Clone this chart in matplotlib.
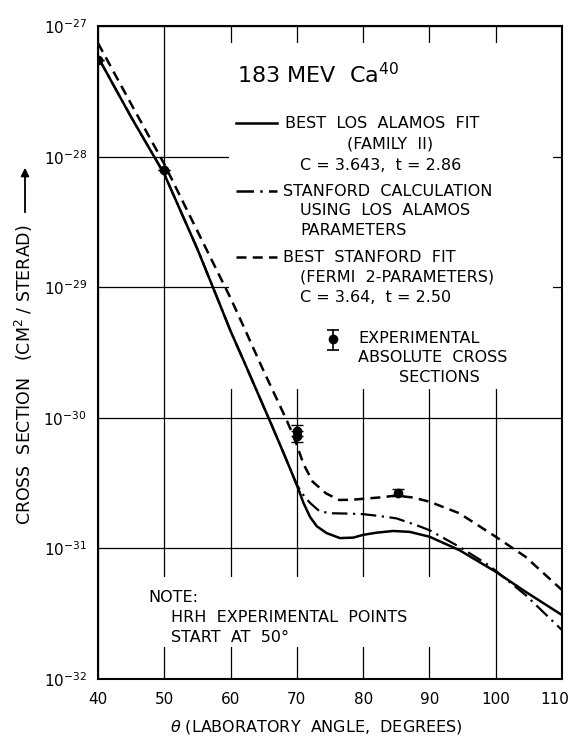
import matplotlib
matplotlib.use('Agg')
import matplotlib.pyplot as plt
import matplotlib.transforms as mtransforms
from matplotlib.patches import Rectangle
from matplotlib.ticker import NullLocator

plt.rcParams['mathtext.default'] = 'regular'
plt.rcParams['font.family'] = ['DejaVu Sans']

# Best Los Alamos fit (solid)
la_angle = [40, 45, 50, 55, 58, 60, 62, 64, 66, 68, 70, 71, 72, 73, 74.5,
            76.5, 78.5, 80, 82, 84.5, 87, 90, 94.5, 100, 104.5, 110]
la_sigma = [5.79e-28, 2.01e-28, 7.36e-29, 1.96e-29, 8.26e-30, 4.62e-30,
            2.72e-30, 1.59e-30, 9.29e-31, 5.37e-31, 3.06e-31, 2.23e-31,
            1.74e-31, 1.48e-31, 1.31e-31, 1.20e-31, 1.21e-31, 1.27e-31,
            1.32e-31, 1.36e-31, 1.34e-31, 1.23e-31, 9.72e-32, 6.63e-32,
            4.66e-32, 3.09e-32]

# Stanford calculation using Los Alamos parameters (dash-dot)
sc_angle = [40, 45, 50, 55, 58, 60, 62, 64, 66, 68, 70, 71, 72, 73.4, 75,
            77.5, 80, 82.5, 85, 88, 90, 94.5, 98.5, 100, 104.5, 110]
sc_sigma = [5.79e-28, 2.01e-28, 7.36e-29, 1.96e-29, 8.26e-30, 4.62e-30,
            2.72e-30, 1.59e-30, 9.29e-31, 5.37e-31, 3.06e-31, 2.56e-31,
            2.23e-31, 1.93e-31, 1.86e-31, 1.85e-31, 1.83e-31, 1.77e-31,
            1.70e-31, 1.51e-31, 1.38e-31, 1.03e-31, 7.69e-32, 6.75e-32,
            4.40e-32, 2.37e-32]

# Best Stanford fit, Fermi 2-parameters (dashed)
sf_angle = [40, 45, 50, 55, 60, 62, 65, 68.3, 69.2, 70, 71, 72.4, 74.4,
            76.4, 78.4, 80, 82.6, 85, 87.6, 90, 94.5, 100, 104.5, 110]
sf_sigma = [7.41e-28, 2.53e-28, 8.78e-29, 2.69e-29, 8.26e-30, 4.96e-30,
            2.28e-30, 1.00e-30, 7.87e-31, 6.19e-31, 4.43e-31, 3.24e-31,
            2.64e-31, 2.35e-31, 2.36e-31, 2.40e-31, 2.46e-31, 2.54e-31,
            2.45e-31, 2.28e-31, 1.86e-31, 1.23e-31, 8.63e-32, 4.80e-32]

# Experimental absolute cross sections
exp_angle = [40, 50, 70, 70, 85.2]
exp_sigma = [5.5e-28, 7.9e-29, 7.9e-31, 7.2e-31, 2.65e-31]
exp_err_lo = [0, 0, 0, 0.7e-31, 0.15e-31]
exp_err_hi = [0, 0, 0.9e-31, 0, 0.2e-31]

x_ticks = [40, 50, 60, 70, 80, 90, 100, 110]
y_ticks = [1e-32, 1e-31, 1e-30, 1e-29, 1e-28, 1e-27]

fig = plt.figure(figsize=(5.73, 7.36), dpi=100)
ax = fig.add_axes([0.1710, 0.0774, 0.8098, 0.8872])

ax.set_yscale('log')
ax.set_xlim(40, 110)
ax.set_ylim(1e-32, 1e-27)
ax.set_xticks(x_ticks)
ax.set_xticklabels([str(t) for t in x_ticks])
ax.set_yticks(y_ticks)
ax.yaxis.set_minor_locator(NullLocator())
ax.tick_params(length=0, labelsize=11)
ax.tick_params(axis='x', pad=9)
ax.tick_params(axis='y', pad=8)
ax.set_axisbelow(True)
ax.grid(True, color='black', lw=0.9)
for s in ax.spines.values():
    s.set_linewidth(1.5)

# keep "110" inside the picture
last = ax.get_xticklabels()[-1]
last.set_transform(last.get_transform() +
                   mtransforms.ScaledTranslation(-7 / 100, 0, fig.dpi_scale_trans))


def pos(px, py):
    # pixel position in the picture -> axes fraction
    return (px - 98) / 464, (679 - py) / 653


# white areas where the grid is cut by the text
for (x0, y0, x1, y1) in [(229, 43, 553, 389), (130, 577, 470, 647)]:
    a0, b1 = pos(x0, y1)
    a1, b0 = pos(x1, y0)
    ax.add_patch(Rectangle((a0, b1), a1 - a0, b0 - b1, transform=ax.transAxes,
                           facecolor='white', edgecolor='none', zorder=1))

ax.plot(la_angle, la_sigma, color='black', lw=1.8, zorder=3)
ax.plot(sc_angle, sc_sigma, color='black', lw=1.6,
        linestyle=(0, (7, 2.5, 1, 2.5)), zorder=3)
ax.plot(sf_angle, sf_sigma, color='black', lw=1.8,
        linestyle=(0, (4, 2.5)), zorder=3)
ax.errorbar(exp_angle, exp_sigma, yerr=[exp_err_lo, exp_err_hi], fmt='o',
            color='black', ms=6, capsize=4, elinewidth=1.2, zorder=4)

# legend block
txt = dict(transform=ax.transAxes, fontsize=11.5, va='center', zorder=5)
ax.text(*pos(237, 75), '183 MEV  Ca$^{40}$', transform=ax.transAxes,
        fontsize=16, va='center', zorder=5)

for ypx, ls in [(123, '-'), (191, (0, (7, 2.5, 1, 2.5))), (257, (0, (4, 2.5)))]:
    x0, y = pos(236, ypx)
    x1, _ = pos(277, ypx)
    ax.plot([x0, x1], [y, y], transform=ax.transAxes, color='black',
            lw=1.8, linestyle=ls, zorder=5)

ax.text(*pos(285, 123), 'BEST  LOS  ALAMOS  FIT', **txt)
ax.text(*pos(390, 144), '(FAMILY  II)', ha='center', **txt)
ax.text(*pos(300, 165), 'C = 3.643,  t = 2.86', **txt)
ax.text(*pos(283, 191), 'STANFORD  CALCULATION', **txt)
ax.text(*pos(300, 210), 'USING  LOS  ALAMOS', **txt)
ax.text(*pos(300, 230), 'PARAMETERS', **txt)
ax.text(*pos(283, 257), 'BEST  STANFORD  FIT', **txt)
ax.text(*pos(300, 277), '(FERMI  2-PARAMETERS)', **txt)
ax.text(*pos(300, 297), 'C = 3.64,  t = 2.50', **txt)

mx, my = pos(333, 339)
_, ytop = pos(333, 330)
_, ybot = pos(333, 350)
ax.plot([mx, mx], [ybot, ytop], transform=ax.transAxes, color='black', lw=1.2, zorder=5)
ax.plot([mx, mx], [ybot, ytop], transform=ax.transAxes, color='black',
        marker='_', ms=8, mew=1.2, linestyle='none', zorder=5)
ax.plot([mx], [my], transform=ax.transAxes, color='black', marker='o', ms=6, zorder=5)
ax.text(*pos(358, 338), 'EXPERIMENTAL', **txt)
ax.text(*pos(358, 357), 'ABSOLUTE  CROSS', **txt)
ax.text(*pos(439, 377), 'SECTIONS', ha='center', **txt)

# note
ax.text(*pos(148, 597), 'NOTE:', **txt)
ax.text(*pos(171, 617), 'HRH  EXPERIMENTAL  POINTS', **txt)
ax.text(*pos(171, 637), 'START  AT  50\u00b0', **txt)

# axis labels
fig.text(316 / 573, 1 - 727 / 736, '$\\mathit{\\theta}$ (LABORATORY  ANGLE,  DEGREES)',
         ha='center', va='center', fontsize=11.5)
fig.text(24 / 573, 1 - 375 / 736, 'CROSS  SECTION   (CM$^2$ / STERAD)',
         rotation=90, ha='center', va='center', fontsize=12.5)
fig.add_artist(plt.Line2D([25 / 573, 25 / 573], [1 - 212 / 736, 1 - 172 / 736],
                          color='black', lw=1.3))
ax.annotate('', xy=(25 / 573, 1 - 165 / 736), xytext=(25 / 573, 1 - 180 / 736),
            xycoords='figure fraction', textcoords='figure fraction',
            arrowprops=dict(arrowstyle='-|>', color='black', lw=1.3,
                            mutation_scale=12))

fig.savefig('out.png', dpi=100)
